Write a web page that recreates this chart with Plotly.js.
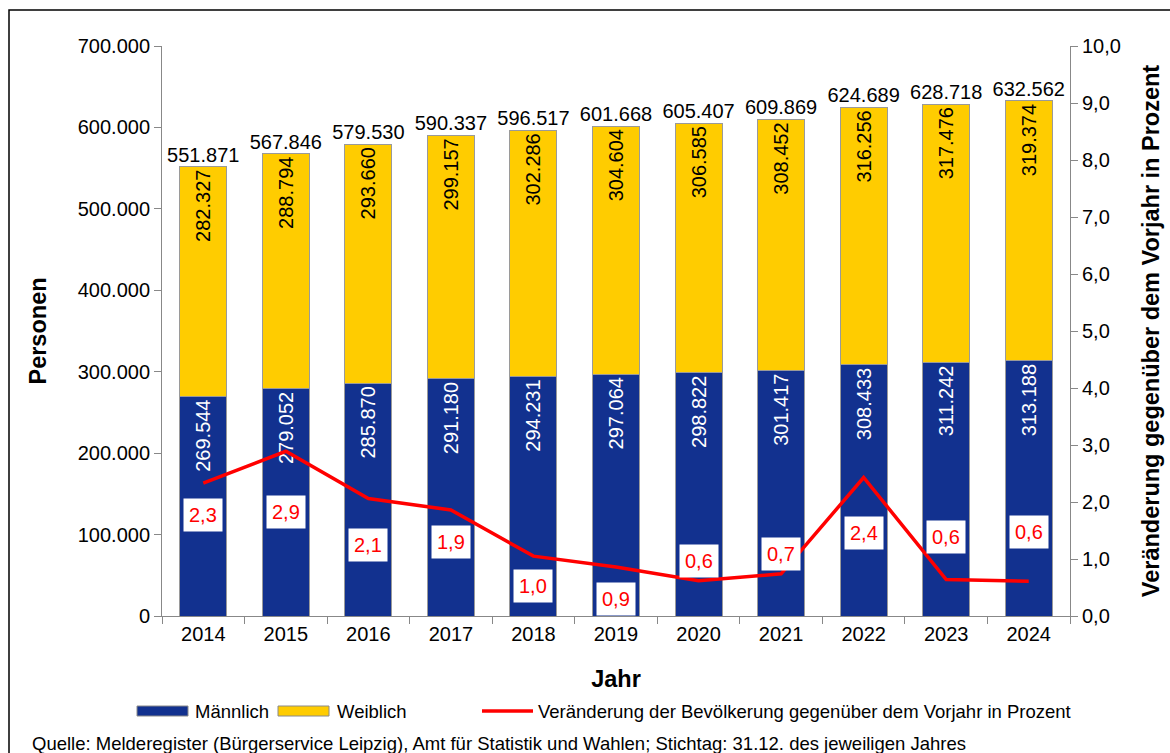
<!DOCTYPE html>
<html>
<head>
<meta charset="utf-8">
<script src="https://cdn.plot.ly/plotly-3.0.1.min.js"></script>
<style>html,body{margin:0;padding:0;background:#fff}#chart{width:1170px;height:753px}</style>
</head>
<body>
<div id="chart"></div>
<script>
const years = ["2014","2015","2016","2017","2018","2019","2020","2021","2022","2023","2024"];
const maennlich = [269544,279052,285870,291180,294231,297064,298822,301417,308433,311242,313188];
const weiblich = [282327,288794,293660,299157,302286,304604,306585,308452,316256,317476,319374];
const gesamt = [551871,567846,579530,590337,596517,601668,605407,609869,624689,628718,632562];
const veraenderung = [2.33,2.89,2.06,1.86,1.05,0.86,0.62,0.74,2.43,0.64,0.61];
const veraenderungLabels = ["2,3","2,9","2,1","1,9","1,0","0,9","0,6","0,7","2,4","0,6","0,6"];
const seriesNames = ["Männlich","Weiblich","Veränderung der Bevölkerung gegenüber dem Vorjahr in Prozent"];
// label offsets in pixels (layout only)
const labelShift = [-32,-61,-46,-32,-30,-32,20,20,-56,43,49];

const FONT = "Liberation Sans, Arial, sans-serif";
const blue = "#12318f";
const yellow = "#ffcc00";
const red = "#ff0000";

// pixel -> paper helpers (plot area: x 162..1070, y 46..616)
const L = 162, R = 1070, T = 46, B = 616;
const px = v => (v - L) / (R - L);
const py = v => (B - v) / (B - T);

const traces = [
  {type:"bar", name:seriesNames[0], x:years, y:maennlich,
   marker:{color:blue, line:{color:"#9a9a9a", width:1}},
   text:maennlich, texttemplate:"%{y:,d}", textposition:"inside", insidetextanchor:"end",
   textangle:-90, constraintext:"none", textfont:{color:"#ffffff", size:20, family:FONT},
   hoverinfo:"skip", showlegend:false},
  {type:"bar", name:seriesNames[1], x:years, y:weiblich,
   marker:{color:yellow, line:{color:"#9a9a9a", width:1}},
   text:weiblich, texttemplate:"%{y:,d}", textposition:"inside", insidetextanchor:"end",
   textangle:-90, constraintext:"none", textfont:{color:"#000000", size:20, family:FONT},
   hoverinfo:"skip", showlegend:false},
  {type:"scatter", mode:"text", x:years, y:gesamt, text:gesamt, texttemplate:"%{y:,d}",
   textposition:"top center", textfont:{size:20, color:"#000", family:FONT},
   showlegend:false, hoverinfo:"skip"},
  {type:"scatter", mode:"lines", name:seriesNames[2],
   x:years, y:veraenderung, yaxis:"y2", line:{color:red, width:3.5}, hoverinfo:"skip", showlegend:false}
];

const annotations = years.map((yr,i)=>({
  x:i, y:veraenderung[i], xref:"x", yref:"y2", yshift:labelShift[i],
  text:veraenderungLabels[i], showarrow:false, bgcolor:"#ffffff", borderpad:5,
  font:{color:red, size:20, family:FONT}
}));
// custom legend texts
[[193, seriesNames[0]], [335, seriesNames[1]], [536, seriesNames[2]]].forEach(([x, t]) => {
  annotations.push({xref:"paper", yref:"paper", x:px(x), y:py(711), xanchor:"left", yanchor:"middle",
    text:t, showarrow:false, font:{size:18.5, color:"#000", family:FONT}});
});
annotations.push({
  xref:"paper", yref:"paper", x:px(30), y:py(743), xanchor:"left", yanchor:"middle",
  text:"Quelle: Melderegister (Bürgerservice Leipzig), Amt für Statistik und Wahlen; Stichtag: 31.12. des jeweiligen Jahres",
  showarrow:false, font:{size:18.5, color:"#000", family:FONT}
});

const shapes = [
  {type:"rect", xref:"paper", yref:"paper", x0:px(9), x1:1.3, y0:-0.4, y1:py(10),
   line:{color:"#000", width:1.5}, fillcolor:"rgba(0,0,0,0)"},
  {type:"rect", xref:"paper", yref:"paper", x0:px(137), x1:px(188), y0:py(716), y1:py(706),
   line:{color:"#8a8a8a", width:1}, fillcolor:blue},
  {type:"rect", xref:"paper", yref:"paper", x0:px(278), x1:px(329), y0:py(716), y1:py(706),
   line:{color:"#8a8a8a", width:1}, fillcolor:yellow},
  {type:"line", xref:"paper", yref:"paper", x0:px(482), x1:px(533), y0:py(711), y1:py(711),
   line:{color:red, width:3.5}}
];

const layout = {
  width:1170, height:753,
  margin:{l:L, r:1170-R, t:T, b:753-B},
  paper_bgcolor:"#ffffff", plot_bgcolor:"#ffffff",
  separators:",.",
  barmode:"stack", bargap:0.43,
  font:{family:FONT, color:"#000"},
  showlegend:false,
  xaxis:{type:"category", categoryorder:"array", categoryarray:years, range:[-0.5, years.length-0.5],
         autorange:false, showline:true, linecolor:"#888", linewidth:1, ticks:"outside", ticklen:7,
         tickcolor:"#888", tickson:"boundaries", tickangle:0, tickfont:{size:20, family:FONT}, showgrid:false,
         title:{text:"<b>Jahr</b>", font:{size:23.5, family:FONT}, standoff:26}},
  yaxis:{range:[0,700000], autorange:false, dtick:100000, tickformat:",d", showline:true, linecolor:"#888", linewidth:1,
         ticks:"outside", ticklen:7, tickcolor:"#888", showgrid:false, zeroline:false,
         tickfont:{size:20, family:FONT},
         title:{text:"<b>Personen</b>", font:{size:23.5, family:FONT}, standoff:24}},
  yaxis2:{range:[0,10], autorange:false, dtick:1, tickformat:".1f", overlaying:"y", side:"right", showline:true,
          linecolor:"#888", linewidth:1, ticks:"outside", ticklen:7, tickcolor:"#888", showgrid:false,
          zeroline:false, tickfont:{size:20, family:FONT},
          title:{text:"<b>Veränderung gegenüber dem Vorjahr in Prozent</b>", font:{size:23.5, family:FONT}, standoff:22}},
  annotations:annotations,
  shapes:shapes
};

Plotly.newPlot("chart", traces, layout, {displayModeBar:false, staticPlot:true});
</script>
</body>
</html>
